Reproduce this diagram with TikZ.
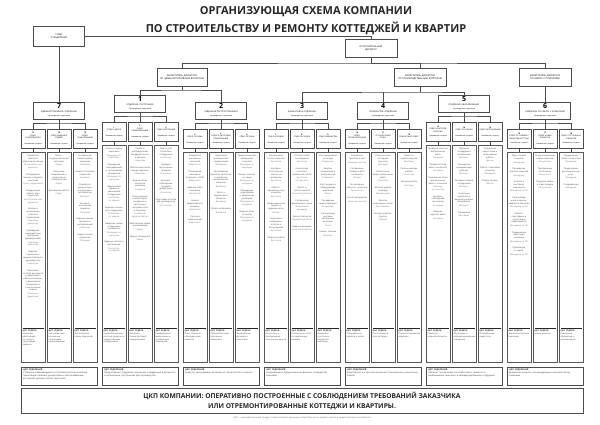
\documentclass[tikz,border=0pt]{standalone}
\usepackage{fontspec}
\setmainfont{Open Sans}

% one function of a post: what is done, then who does it
\newcommand{\fu}[2]{#1\\[0.6pt]{\color{black!55}#2}\\[4pt]}
% one department: id, x, top of its box, box text, functions, ckp
\newcommand{\otdel}[6]{%
  \node[subbox] (s#1) at (#2,#3+9.5) {#4};
  \draw[colframe] (#2-12,#3+23) rectangle (#2+12,362);
  \coordinate (c#1) at (#2,#3+23);
  \draw[link] (s#1) -- (c#1);
  \node[coltext, anchor=north] (f#1) at (#2,#3+25.5) {#5};
  \draw[ckpline] (#2-10.5,328) -- (#2+10.5,328);
  \node[coltext, anchor=north, align=left] (k#1) at (#2,329.5) {\textbf{ЦКП ОТДЕЛА:}\\#6};
}
% one division: id, left x, top of its box, number, name, ckp
\newcommand{\otdelenie}[6]{%
  \node[divbox] (d#1) at (#2+38,#3+8.5) {{\fontsize{7}{7}\selectfont\bfseries #4}\\[1pt]#5\\[1.5pt]{\fontsize{1.8}{2}\selectfont Руководитель отделения}};
  \coordinate (b#1) at (#2+38,#3+21);
  \draw[link] (s#1a.north) |- (b#1) -| (s#1c.north);
  \draw[link] (d#1) -- (s#1b);
  \draw[frame] (#2,367) rectangle (#2+76,385);
  \node[ckptext, anchor=north west] (z#1) at (#2+1.5,368.5) {\textbf{ЦКП ОТДЕЛЕНИЯ:}\\#6};
}

\begin{document}
\begin{tikzpicture}[x=1pt, y=-1pt,
  frame/.style={draw=black!70, line width=0.8pt},
  link/.style={draw=black!70, line width=0.8pt},
  colframe/.style={draw=black!65, line width=0.9pt},
  ckpline/.style={draw=black!85, line width=0.9pt},
  headbox/.style={frame, fill=white, minimum width=52pt, minimum height=18pt, text width=46pt, align=center, inner sep=1pt, font=\fontsize{2.3}{3}\selectfont},
  divbox/.style={frame, fill=white, minimum width=51pt, minimum height=17pt, text width=47pt, align=center, inner sep=0.5pt, font=\fontsize{2.1}{2.6}\selectfont},
  subbox/.style={frame, fill=white, minimum width=24pt, minimum height=19pt, text width=21pt, align=center, inner sep=0.5pt, font=\fontsize{1.9}{2.5}\selectfont},
  coltext/.style={text width=21pt, align=center, inner sep=0.5pt, text=black!75, font=\fontsize{2.1}{2.8}\selectfont},
  ckptext/.style={text width=72pt, align=left, inner sep=0.5pt, text=black!80, font=\fontsize{2.2}{3}\selectfont}]
\fill[white] (0,0) rectangle (600,424);
\useasboundingbox (0,0) rectangle (600,424);

\node[font=\fontsize{11}{13}\selectfont\bfseries, text=black!85] (t1) at (306,12) {ОРГАНИЗУЮЩАЯ СХЕМА КОМПАНИИ};
\node[font=\fontsize{11}{13}\selectfont\bfseries, text=black!85] (t2) at (306,28) {ПО СТРОИТЕЛЬСТВУ И РЕМОНТУ КОТТЕДЖЕЙ И КВАРТИР};

\node[headbox, minimum width=51pt, minimum height=20pt] (sovet) at (59,36) {СОВЕТ\\УЧРЕДИТЕЛЕЙ};
\node[headbox] (exec) at (371,48) {ИСПОЛНИТЕЛЬНЫЙ\\ДИРЕКТОР};
\node[headbox, minimum width=50pt] (dep1) at (182,77) {ЗАМЕСТИТЕЛЬ ДИРЕКТОРА\\ПО АДМИНИСТРАТИВНЫМ ВОПРОСАМ};
\node[headbox] (dep2) at (420,77) {ЗАМЕСТИТЕЛЬ ДИРЕКТОРА\\ПО ПРОИЗВОДСТВЕННЫМ ВОПРОСАМ};
\node[headbox] (dep3) at (545,77) {ЗАМЕСТИТЕЛЬ ДИРЕКТОРА\\ПО РАБОТЕ С КЛИЕНТАМИ};

% 7 administrative
\otdel{7a}{33}{129}{\textbf{21}\\ОТДЕЛ РУКОВОДИТЕЛЯ\\[3pt]Начальник отдела}{\fu{Разработка стратегии развития компании}{Исполнительный директор}\fu{Утверждение планов и бюджета компании}{Совет учредителей}\fu{Координация работы всех отделений}{Исполнительный директор}\fu{Контроль выполнения планов и показателей}{Секретарь директора}\fu{Проведение еженедельных совещаний руководителей}{Секретарь директора}\fu{Ведение переписки и документооборота руководителя}{Секретарь}\fu{Подготовка отчётов для совета учредителей о работе компании, о финансовом положении и о выполнении планов}{Помощник директора}}{Компания, работающая по плану и приносящая прибыль}
\otdel{7b}{59}{129}{\textbf{20}\\ОТДЕЛ ВНЕШНИХ СВЯЗЕЙ\\[3pt]Начальник отдела}{\fu{Связь с государственными органами}{Юрист}\fu{Получение разрешений и лицензий на строительство}{Юрист}\fu{Договорная работа}{Юрист}}{Благоприятные отношения с внешними организациями}
\otdel{7c}{85}{129}{\textbf{19}\\ОТДЕЛ ПЛАНИРОВАНИЯ\\[3pt]Начальник отдела}{\fu{Составление планов работы компании}{Плановик}\fu{Анализ статистики отделений}{Аналитик}\fu{Разработка должностных инструкций и регламентов}{Методист}\fu{Контроль исполнения приказов}{Плановик}\fu{Ведение архива приказов и распоряжений}{Секретарь}\fu{Сверка планов отделений}{Плановик}}{Выполненные планы отделений}
\otdelenie{7}{21}{102}{7}{АДМИНИСТРАТИВНОЕ ОТДЕЛЕНИЕ}{Стабильно развивающаяся и платёжеспособная компания, приносящая прибыль учредителям и обеспечивающая достойный уровень оплаты персонала}

% 1 build-up
\otdel{1a}{114}{122}{\textbf{1}\\ОТДЕЛ КАДРОВ\\[3pt]Начальник отдела}{\fu{Поиск и подбор персонала}{Менеджер по персоналу}\fu{Проведение собеседований и тестирования кандидатов}{Менеджер по персоналу}\fu{Оформление приёма и увольнения сотрудников}{Инспектор по кадрам}\fu{Ведение личных дел сотрудников}{Инспектор по кадрам}\fu{Введение новых сотрудников в должность}{Менеджер по персоналу}\fu{Ведение штатного расписания}{Инспектор по кадрам}}{Укомплектованные штатные должности продуктивными сотрудниками}
\otdel{1b}{140}{122}{\textbf{2}\\ОТДЕЛ КОММУНИКАЦИЙ\\[3pt]Начальник отдела}{\fu{Приём и распределение входящей почты и звонков}{Секретарь}\fu{Обеспечение связи между отделами}{Секретарь}\fu{Ведение базы контактов компании}{Оператор}\fu{Обслуживание компьютеров, телефонов и оргтехники, настройка сети и программ}{Системный администратор}\fu{Обеспечение офиса канцтоварами}{Завхоз}\fu{Уборка помещений}{Завхоз}}{Быстрая и точная доставка коммуникаций}
\otdel{1c}{166}{122}{\textbf{3}\\ОТДЕЛ ИНСПЕКЦИЙ\\[3pt]Начальник отдела}{\fu{Сбор и учёт статистики сотрудников}{Инспектор}\fu{Проверка выполнения приказов}{Инспектор}\fu{Контроль соблюдения трудовой дисциплины}{Инспектор}\fu{Подготовка отчётов для руководителя}{Инспектор}}{Своевременно выявленные и устранённые нарушения}
\otdelenie{1}{102}{95}{1}{ОТДЕЛЕНИЕ ПОСТРОЕНИЯ}{Продуктивные сотрудники, обученные и введённые в должность, и организация, построенная для производства}

% 2 sales
\otdel{2a}{195}{129}{\textbf{4}\\ОТДЕЛ РЕКЛАМЫ\\[3pt]Начальник отдела}{\fu{Разработка рекламных кампаний}{Маркетолог}\fu{Размещение рекламы в интернете и СМИ}{Маркетолог}\fu{Ведение сайта компании}{Веб-мастер}\fu{Анализ эффективности рекламы}{Маркетолог}\fu{Рассылка предложений}{Маркетолог}}{Поток заявок от потенциальных клиентов}
\otdel{2b}{221}{129}{\textbf{5}\\ОТДЕЛ ПОДГОТОВКИ ПРЕДЛОЖЕНИЙ\\[2pt]Начальник отдела}{\fu{Подготовка коммерческих предложений}{Менеджер}\fu{Изготовление буклетов, каталогов и портфолио выполненных объектов}{Дизайнер}\fu{Фото- и видеосъёмка объектов}{Дизайнер}\fu{Печать материалов}{Дизайнер}}{Привлекательные рекламные материалы}
\otdel{2c}{247}{129}{\textbf{6}\\ОТДЕЛ ПРОДАЖ\\[3pt]Начальник отдела}{\fu{Приём входящих обращений клиентов}{Менеджер по продажам}\fu{Выезд к клиенту на замер}{Менеджер по продажам}\fu{Проведение переговоров и заключение договоров}{Менеджер по продажам}\fu{Ведение базы клиентов}{Менеджер по продажам}}{Заключённые договоры с клиентами}
\otdelenie{2}{183}{102}{2}{ОТДЕЛЕНИЕ РАСПРОСТРАНЕНИЯ}{Клиенты, заключившие договоры на строительство и ремонт}

% 3 finance
\otdel{3a}{276}{129}{\textbf{7}\\ОТДЕЛ ДОХОДОВ\\[3pt]Начальник отдела}{\fu{Выставление счетов клиентам}{Бухгалтер}\fu{Контроль поступления оплаты по договорам}{Бухгалтер}\fu{Работа с задолженностью клиентов}{Бухгалтер}\fu{Приём наличных средств и ведение кассы}{Кассир}\fu{Подготовка ежедневных отчётов о поступлениях}{Бухгалтер}\fu{Сверка расчётов}{Бухгалтер}}{Полностью и своевременно полученные деньги}
\otdel{3b}{302}{129}{\textbf{8}\\ОТДЕЛ РАСХОДОВ\\[3pt]Начальник отдела}{\fu{Оплата счетов поставщиков}{Бухгалтер}\fu{Начисление и выплата заработной платы}{Бухгалтер по зарплате}\fu{Расчёт и уплата налогов}{Главный бухгалтер}\fu{Составление финансового плана}{Финансовый менеджер}\fu{Сдача отчётности}{Главный бухгалтер}\fu{Ведение резервов}{Главный бухгалтер}}{Оплаченные счета и сохранённые резервы}
\otdel{3c}{328}{129}{\textbf{9}\\ОТДЕЛ ИМУЩЕСТВА\\[3pt]Начальник отдела}{\fu{Учёт материалов на складе}{Кладовщик}\fu{Закупка материалов и инструментов}{Снабженец}\fu{Учёт техники и оборудования компании}{Завхоз}\fu{Проведение инвентаризации}{Кладовщик}\fu{Организация доставки материалов на объект}{Логист}\fu{Ремонт техники}{Механик}}{Сохранное и учтённое имущество компании}
\otdelenie{3}{264}{102}{3}{ФИНАНСОВОЕ ОТДЕЛЕНИЕ}{Сохранённые и приумноженные финансы и имущество компании}

% 4 production
\otdel{4a}{357}{129}{\textbf{10}\\ОТДЕЛ ПРОЕКТИРОВАНИЯ\\[3pt]Начальник отдела}{\fu{Разработка проектов и смет}{Инженер-сметчик}\fu{Составление графика работ на объекте}{Прораб}\fu{Согласование проекта с клиентом}{Архитектор}\fu{Расчёт материалов}{Инженер-сметчик}}{Утверждённые проекты и сметы}
\otdel{4b}{383}{129}{\textbf{11}\\СТРОИТЕЛЬНЫЙ ОТДЕЛ\\[3pt]Начальник отдела}{\fu{Строительство коттеджей под ключ}{Бригадир}\fu{Выполнение общестроительных работ}{Строители}\fu{Монтаж кровли и фасада}{Кровельщики}\fu{Монтаж инженерных сетей}{Монтажники}\fu{Благоустройство участка}{Рабочие}}{Построенные в срок коттеджи}
\otdel{4c}{409}{129}{\textbf{12}\\РЕМОНТНЫЙ ОТДЕЛ\\[3pt]Начальник отдела}{\fu{Ремонт и отделка квартир}{Бригадир}\fu{Сантехнические работы}{Сантехник}\fu{Электромонтаж}{Электрик}}{Отремонтированные квартиры}
\otdelenie{4}{345}{102}{4}{ТЕХНИЧЕСКОЕ ОТДЕЛЕНИЕ}{Качественно и в срок выполненные строительные и ремонтные работы}

% 5 qualification
\otdel{5a}{438}{122}{\textbf{13}\\ОТДЕЛ КОНТРОЛЯ КАЧЕСТВА\\[2pt]Начальник отдела}{\fu{Проверка качества выполненных работ}{Технадзор}\fu{Приёмка этапов работ на объекте}{Технадзор}\fu{Подписание актов выполненных работ с клиентом}{Инженер по качеству}\fu{Контроль соблюдения технологии}{Технадзор}\fu{Ведение журнала работ}{Технадзор}}{Принятые клиентом объекты}
\otdel{5b}{464}{122}{\textbf{14}\\ОТДЕЛ ОБУЧЕНИЯ\\[3pt]Начальник отдела}{\fu{Обучение сотрудников технологиям}{Методист}\fu{Повышение квалификации рабочих}{Методист}\fu{Проверка знаний сотрудников}{Методист}\fu{Аттестация персонала и ведение учебных материалов}{Методист}\fu{Стажировка}{Наставник}}{Обученные и квалифицированные сотрудники}
\otdel{5c}{490}{122}{\textbf{15}\\ОТДЕЛ ИСПРАВЛЕНИЙ\\[3pt]Начальник отдела}{\fu{Устранение недостатков и гарантийные работы}{Мастер}\fu{Работа с жалобами клиентов}{Менеджер}\fu{Разбор ошибок}{Мастер}}{Исправленные недостатки}
\otdelenie{5}{426}{95}{5}{ОТДЕЛЕНИЕ КВАЛИФИКАЦИИ}{Объекты, построенные в соответствии с проектом и требованиями заказчика, и квалифицированные сотрудники}

% 6 clients
\otdel{6a}{519}{129}{\textbf{16}\\ОТДЕЛ ПО СВЯЗЯМ С ОБЩЕСТВЕННОСТЬЮ\\[2pt]Начальник отдела}{\fu{Сбор отзывов клиентов}{Менеджер}\fu{Проведение опросов клиентов}{Менеджер}\fu{Участие в выставках и ярмарках}{Менеджер по PR}\fu{Организация дней открытых дверей на объектах}{Менеджер по PR}\fu{Работа с партнёрами и агентствами недвижимости}{Менеджер по PR}\fu{Поддержание репутации компании}{Менеджер по PR}\fu{Публикации в прессе}{Менеджер по PR}}{Хорошая репутация компании}
\otdel{6b}{545}{129}{\textbf{17}\\ОТДЕЛ НОВЫХ КЛИЕНТОВ\\[3pt]Начальник отдела}{\fu{Консультирование новых клиентов}{Консультант}\fu{Приглашение на объекты}{Консультант}\fu{Передача заявок в отдел продаж}{Консультант}}{Новые клиенты}
\otdel{6c}{571}{129}{\textbf{18}\\ОТДЕЛ ПОСТОЯННЫХ КЛИЕНТОВ\\[2pt]Начальник отдела}{\fu{Поддержание связи с клиентами}{Менеджер}\fu{Предложение дополнительных услуг}{Менеджер}\fu{Поздравления}{Менеджер}}{Повторные обращения и рекомендации}
\otdelenie{6}{507}{102}{6}{ОТДЕЛЕНИЕ ПО РАБОТЕ С КЛИЕНТАМИ}{Довольные клиенты, рекомендующие компанию своим знакомым}

% top of the board
\draw[link] (sovet.east) -| (exec.north);
\draw[link] (sovet) -- (d7);
\coordinate (eb) at (371,63);
\draw[link] (exec) -- (eb);
\draw[link] (dep1.north) |- (eb) -| (dep3.north);
\draw[link] (eb) -| (dep2.north);
\coordinate (ab) at (182,90);
\draw[link] (dep1) -- (ab);
\draw[link] (d1.north) |- (ab) -| (d2.north);
\coordinate (pb) at (420,92);
\draw[link] (dep2) -- (pb);
\draw[link] (d3.north) |- (pb) -| (d5.north);
\draw[link] (d4.north |- pb) -- (d4.north);
\draw[link] (dep3) -- (d6);

\node[frame, minimum width=562pt, minimum height=24pt, align=center, text=black!85, font=\fontsize{6.7}{10}\selectfont\bfseries] (ckp) at (302,401) {ЦКП КОМПАНИИ: ОПЕРАТИВНО ПОСТРОЕННЫЕ С СОБЛЮДЕНИЕМ ТРЕБОВАНИЙ ЗАКАЗЧИКА\\ИЛИ ОТРЕМОНТИРОВАННЫЕ КОТТЕДЖИ И КВАРТИРЫ.};
\node[text=black!60, font=\fontsize{2.2}{3}\selectfont] (note) at (302,418) {ЦКП — ценный конечный продукт. Схема отражает функции и ответственность каждого отдела и каждой должности компании};
\end{tikzpicture}
\end{document}
